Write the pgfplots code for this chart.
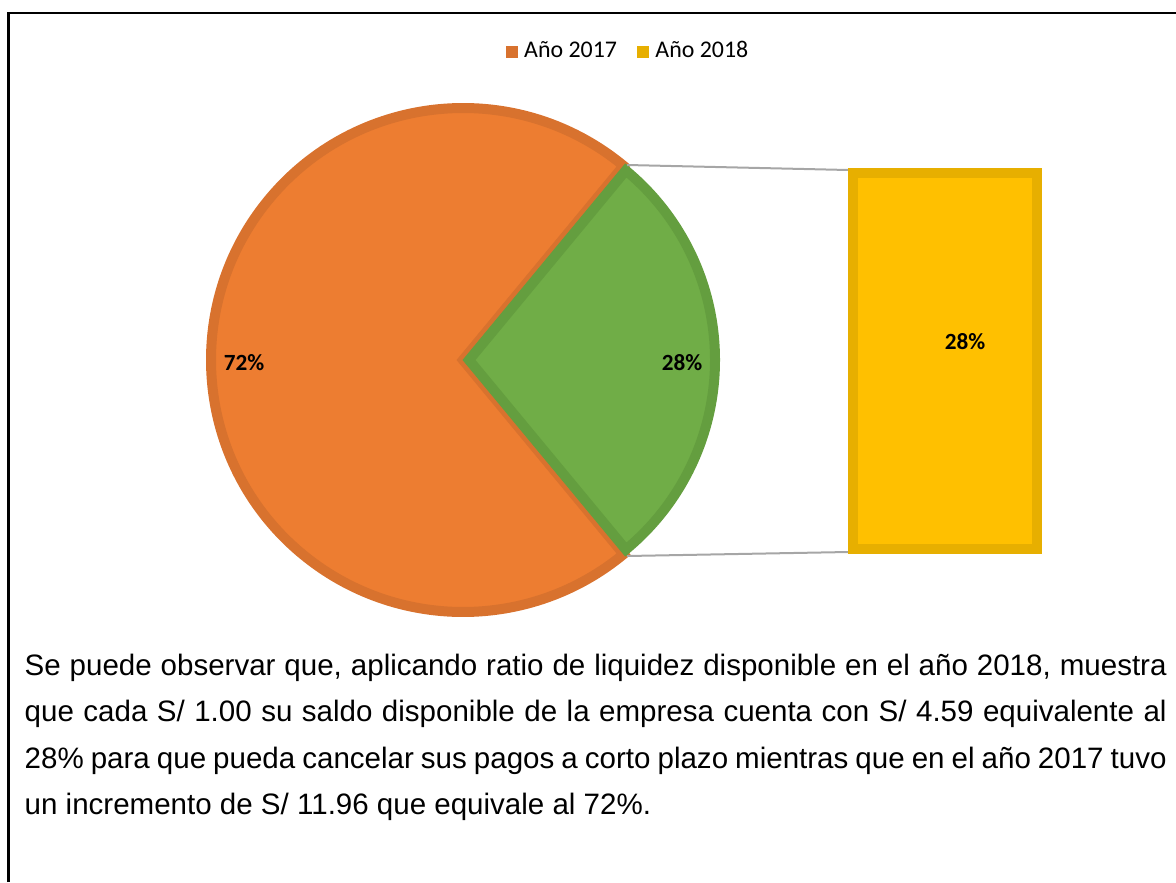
\documentclass[border=0pt]{standalone}
\usepackage{pgfplots}
\pgfplotsset{compat=1.18}
\usepackage{pgfplotstable}
\usepackage{fontspec}
\setmainfont{Liberation Sans}
\newfontfamily\calibri{Carlito}

\definecolor{naranja}{HTML}{ED7D31}
\definecolor{naranjaborde}{HTML}{D8722E}
\definecolor{verde}{HTML}{70AD47}
\definecolor{verdeborde}{HTML}{649E3F}
\definecolor{amarillo}{HTML}{FFC000}
\definecolor{amarilloborde}{HTML}{E7AF00}
\definecolor{conector}{HTML}{A6A6A6}

% porcentajes del grafico
\pgfplotstableread{
serie valor
2017 72
2018 28
}\datos

\begin{document}
\begin{tikzpicture}
\pgfplotstablegetelem{0}{valor}\of\datos \let\vA\pgfplotsretval
\pgfplotstablegetelem{1}{valor}\of\datos \let\vB\pgfplotsretval
\pgfmathsetmacro{\mitad}{\vB*3.6/2}
\pgfmathsetmacro{\fin}{360-\mitad}
\begin{axis}[name=ax, scale only axis, width=117.6mm, height=88.2mm,
    xmin=0, xmax=1176, ymin=0, ymax=882, hide axis,
    legend columns=2,
    legend style={at={(axis cs:629,830)}, anchor=center, draw=none, fill=none,
      font=\calibri\fontsize{6.8}{8}\selectfont,
      nodes={inner sep=0.4mm},
      /tikz/every odd column/.append style={column sep=0.2mm},
      /tikz/every even column/.append style={column sep=1.6mm}}]
% marco
\draw[black, line width=0.25mm] (axis cs:8.5,0) -- (axis cs:8.5,869) -- (axis cs:1176,869);
% porcion 2017
\filldraw[fill=naranja, draw=naranjaborde, line width=1mm, line join=miter]
  (axis cs:463,522) -- ++(\mitad:25.2mm) arc[start angle=\mitad, end angle=\fin, radius=25.2mm] -- cycle;
% porcion 2018
\filldraw[fill=verde, draw=verdeborde, line width=1mm, line join=miter]
  (axis cs:469,522) -- ++(-\mitad:24.6mm) arc[start angle=-\mitad, end angle=\mitad, radius=24.6mm] -- cycle;
% conectores
\draw[conector, line width=0.2mm] (axis cs:627,717) -- (axis cs:848,712);
\draw[conector, line width=0.2mm] (axis cs:627,326) -- (axis cs:848,330);
% barra del segundo grafico
\filldraw[fill=amarillo, draw=amarilloborde, line width=1mm]
  (axis cs:853,333) rectangle (axis cs:1037,709);
% etiquetas
\node[font=\calibri\bfseries\fontsize{6.6}{8}\selectfont] at (axis cs:244,519) {\vA\%};
\node[font=\calibri\bfseries\fontsize{6.6}{8}\selectfont] at (axis cs:682,519) {\vB\%};
\node[font=\calibri\bfseries\fontsize{6.6}{8}\selectfont] at (axis cs:965,540) {\vB\%};
% leyenda
\addlegendimage{legend image code/.code={\fill[naranjaborde] (0mm,-0.55mm) rectangle (1.1mm,0.55mm);}}
\addlegendentry{Año 2017}
\addlegendimage{legend image code/.code={\fill[amarilloborde] (0mm,-0.55mm) rectangle (1.1mm,0.55mm);}}
\addlegendentry{Año 2018}
% texto
\node[anchor=base west, inner sep=0pt] at (axis cs:24,207) {%
  \parbox[t]{114.2mm}{\fontsize{8.4}{13.23}\selectfont
  Se puede observar que, aplicando ratio de liquidez disponible en el año 2018, muestra\linebreak
  que cada S/ 1.00 su saldo disponible de la empresa cuenta con S/ 4.59 equivalente al\linebreak
  28\% para que pueda cancelar sus pagos a corto plazo mientras que en el año 2017 tuvo\linebreak
  un incremento de S/ 11.96 que equivale al 72\%.}};
\end{axis}
\pgfresetboundingbox
\path (ax.south west) rectangle (ax.north east);
\end{tikzpicture}
\end{document}
